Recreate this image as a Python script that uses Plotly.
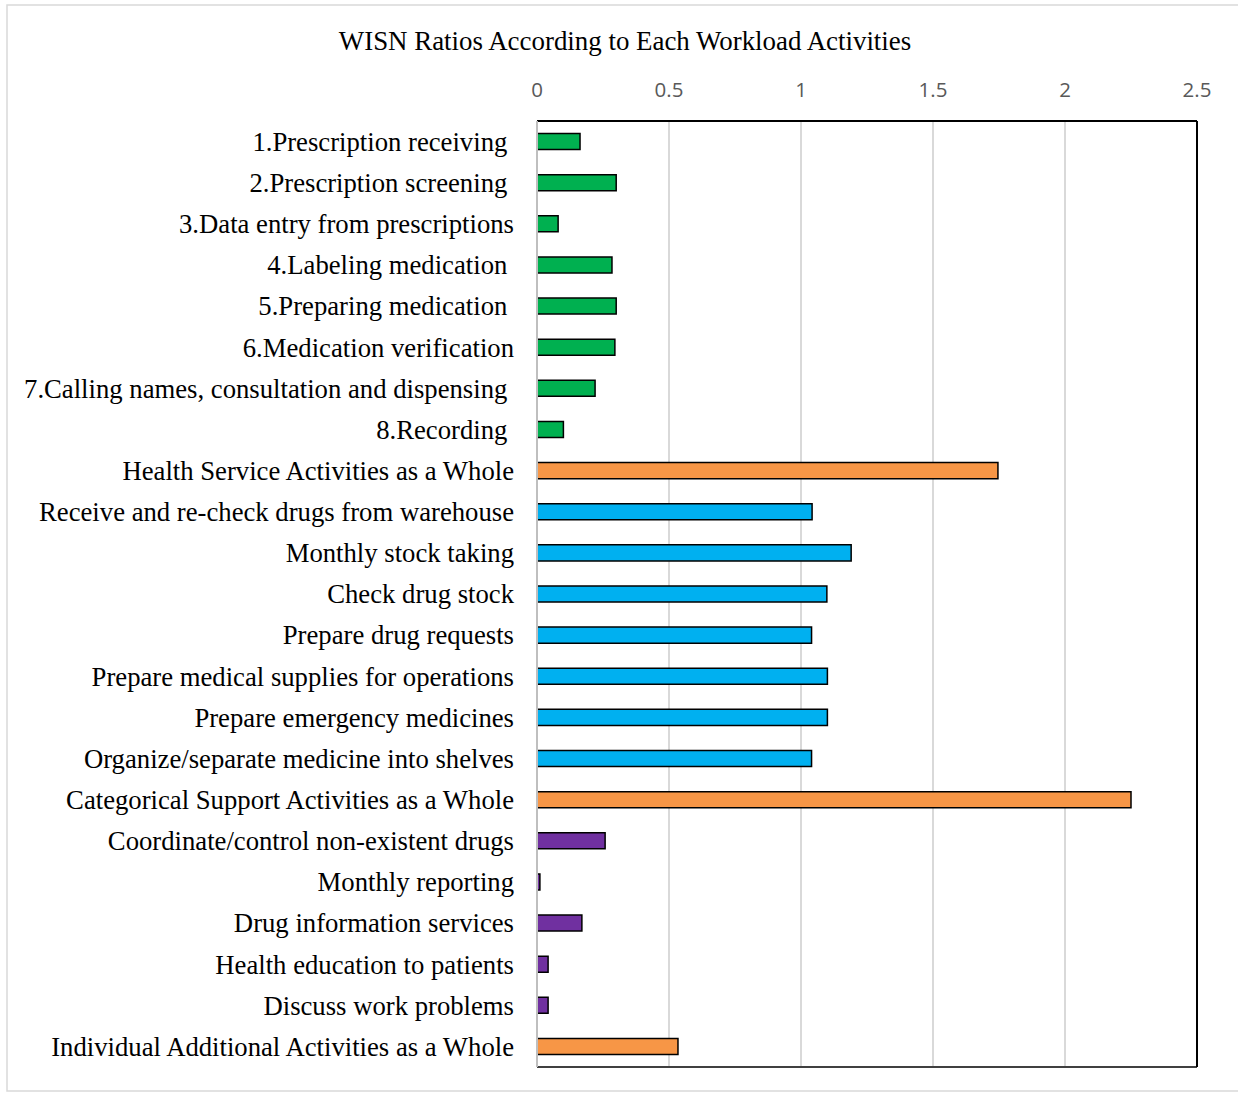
import plotly.graph_objects as go

NB = "\u00a0"
categories = [
    "1.Prescription receiving" + NB,
    "2.Prescription screening" + NB,
    "3.Data entry from prescriptions",
    "4.Labeling medication" + NB,
    "5.Preparing medication" + NB,
    "6.Medication verification",
    "7.Calling names, consultation and dispensing" + NB,
    "8.Recording" + NB,
    "Health Service Activities as a Whole",
    "Receive and re-check drugs from warehouse",
    "Monthly stock taking",
    "Check drug stock",
    "Prepare drug requests",
    "Prepare medical supplies for operations",
    "Prepare emergency medicines",
    "Organize/separate medicine into shelves",
    "Categorical Support Activities as a Whole",
    "Coordinate/control non-existent drugs",
    "Monthly reporting",
    "Drug information services",
    "Health education to patients",
    "Discuss work problems",
    "Individual Additional Activities as a Whole",
]
values = [0.163, 0.30, 0.08, 0.284, 0.30, 0.295, 0.22, 0.10,
          1.746,
          1.042, 1.19, 1.098, 1.04, 1.10, 1.10, 1.04,
          2.25,
          0.258, 0.011, 0.17, 0.042, 0.042,
          0.534]
groups = ["g"] * 8 + ["o"] + ["b"] * 7 + ["o"] + ["p"] * 5 + ["o"]
palette = {"g": "#00B050", "o": "#F79646", "b": "#00B0F0", "p": "#7030A0"}
colors = [palette[g] for g in groups]

fig = go.Figure(go.Bar(
    x=values, y=categories, orientation="h",
    marker=dict(color=colors, line=dict(color="black", width=1.5)),
    width=0.39,
))

L, R, T, B = 537, 41, 121, 26
W, H = 1238, 1093
pw, ph = W - L - R, H - T - B

fig.update_layout(
    width=W, height=H,
    margin=dict(l=L, r=R, t=T, b=B),
    plot_bgcolor="white", paper_bgcolor="white",
    showlegend=False,
    bargap=0.6,
    title=dict(text="WISN Ratios According to Each Workload Activities",
               x=(625) / W, xanchor="center", y=1 - 41 / H, yanchor="middle",
               font=dict(family="Liberation Serif", size=26.9, color="black")),
    xaxis=dict(range=[0, 2.5], dtick=0.5, side="top",
               showgrid=True, gridcolor="#D9D9D9", gridwidth=1.5,
               zeroline=False, showline=False,
               tickfont=dict(family="Open Sans", size=20.5, color="#595959"),
               ticklabelstandoff=19, fixedrange=True),
    yaxis=dict(autorange="reversed", showgrid=False, zeroline=False,
               showline=False, ticks="",
               tickfont=dict(family="Liberation Serif", size=26.7, color="black"),
               ticklabelstandoff=22, fixedrange=True),
    shapes=[
        dict(type="line", xref="paper", yref="paper", x0=0, x1=1, y0=1, y1=1,
             line=dict(color="black", width=2)),
        dict(type="line", xref="paper", yref="paper", x0=0, x1=1, y0=0, y1=0,
             line=dict(color="#404040", width=2)),
        dict(type="line", xref="paper", yref="paper", x0=1, x1=1, y0=0, y1=1,
             line=dict(color="black", width=2)),
        dict(type="line", xref="paper", yref="paper", x0=0, x1=0, y0=0, y1=1,
             line=dict(color="#BFBFBF", width=2)),
        dict(type="rect", xref="paper", yref="paper",
             x0=(7 - L) / pw, x1=(1245 - L) / pw,
             y0=(H - B - 1091) / ph, y1=(H - B - 5) / ph,
             line=dict(color="#D9D9D9", width=1.5), layer="below"),
    ],
)

fig.write_html("out.html")
